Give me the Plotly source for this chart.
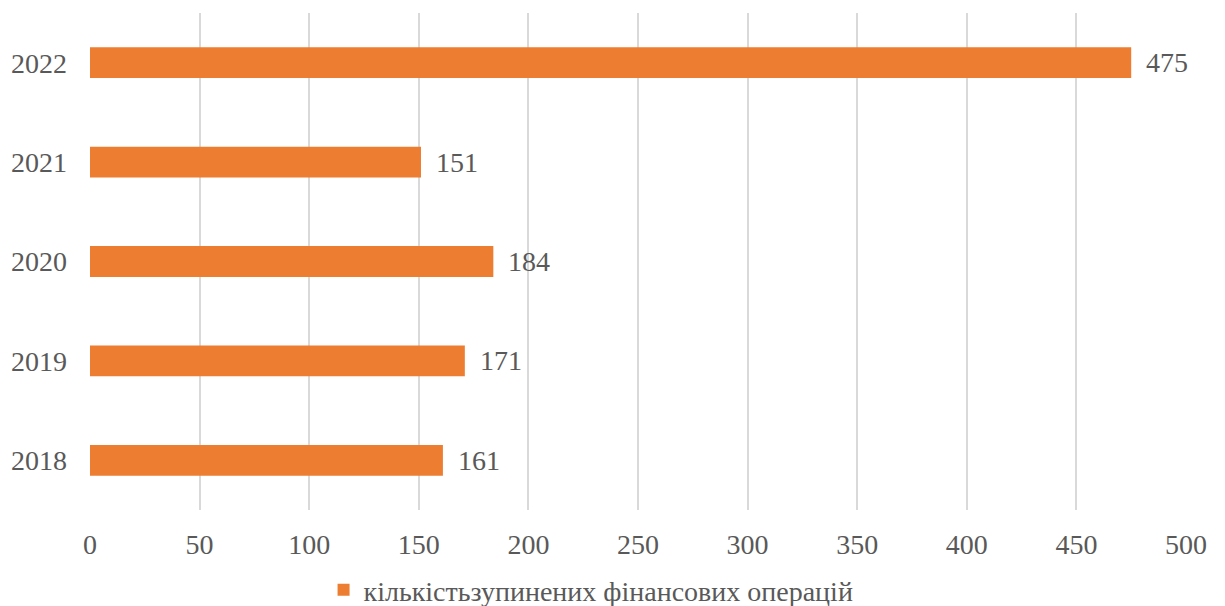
import plotly.graph_objects as go

years = ["2018", "2019", "2020", "2021", "2022"]
values = [161, 171, 184, 151, 475]
series_name = "кількістьзупинених фінансових операцій"
x_ticks = [0, 50, 100, 150, 200, 250, 300, 350, 400, 450, 500]

FONT = "Liberation Serif, Times New Roman, serif"
ORANGE = "#ED7D31"
GREY = "#595959"
FS = 28

fig = go.Figure()
fig.add_trace(go.Bar(
    y=years, x=values, orientation="h", name=series_name,
    marker=dict(color=ORANGE, line=dict(width=0)),
    showlegend=True,
))
# value labels: category axes take the category's serial index
for i, v in enumerate(values):
    fig.add_annotation(x=v, y=i, text=str(v), showarrow=False,
                       xanchor="left", xshift=13,
                       font=dict(family=FONT, size=FS, color=GREY))

fig.update_layout(
    template="none",
    width=1225, height=606,
    margin=dict(l=90, r=39, t=13, b=96, autoexpand=False),
    paper_bgcolor="white", plot_bgcolor="white",
    bargap=0.69,
    font=dict(family=FONT, size=FS, color=GREY),
    showlegend=True,
    legend=dict(orientation="h", x=0.4825, xref="container", xanchor="center",
                y=16 / 606, yref="container", yanchor="middle",
                font=dict(family=FONT, size=FS, color=GREY),
                itemwidth=30, bgcolor="rgba(0,0,0,0)"),
    xaxis=dict(range=[0, 500], tickvals=x_ticks, showgrid=True, automargin=False,
               gridcolor="#D9D9D9", gridwidth=2, zeroline=False,
               showline=False, ticks="", ticklabelstandoff=15,
               tickfont=dict(family=FONT, size=FS, color=GREY)),
    yaxis=dict(type="category", categoryorder="array", categoryarray=years,
               range=[-0.5, 4.5], showgrid=False, automargin=False,
               zeroline=False, showline=False, ticks="", ticklabelstandoff=22,
               tickfont=dict(family=FONT, size=FS, color=GREY)),
)
ps = "document.body.style.margin='0';"
fig.write_html("out.html", post_script=ps, config={"displayModeBar": False})
